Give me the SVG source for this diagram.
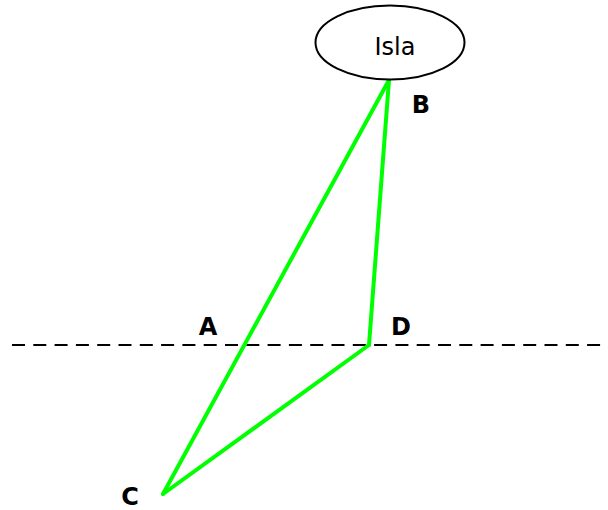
<svg xmlns="http://www.w3.org/2000/svg" width="608" height="510" viewBox="0 0 608 510">
<style>
.lbl{font-family:"DejaVu Sans","Liberation Sans",sans-serif;font-size:24px;font-weight:bold;fill:#000;text-anchor:middle}
.node{font-family:"DejaVu Sans","Liberation Sans",sans-serif;font-size:24px;fill:#000;text-anchor:middle}
.edge{stroke:#00ff00;stroke-width:4;fill:none;stroke-linecap:round;stroke-linejoin:round}
</style>
<rect width="608" height="510" fill="#fff"/>
<line x1="12" y1="345" x2="608" y2="345" stroke="#000" stroke-width="2" stroke-dasharray="13 8.3"/>
<g id="connectors">
<line class="edge" x1="389" y1="80" x2="163" y2="494"/>
<line class="edge" x1="389" y1="80" x2="369" y2="345"/>
<line class="edge" x1="369" y1="345" x2="163" y2="494"/>
</g>
<g id="isla">
<ellipse cx="390" cy="42.5" rx="74.5" ry="37" fill="#fff" stroke="#000" stroke-width="2"/>
<text class="node" x="395" y="55">Isla</text>
</g>
<g id="B"><text class="lbl" x="421" y="113">B</text></g>
<g id="A"><text class="lbl" x="208" y="335">A</text></g>
<g id="D"><text class="lbl" x="401" y="335">D</text></g>
<g id="C"><text class="lbl" x="130" y="505">C</text></g>
</svg>
